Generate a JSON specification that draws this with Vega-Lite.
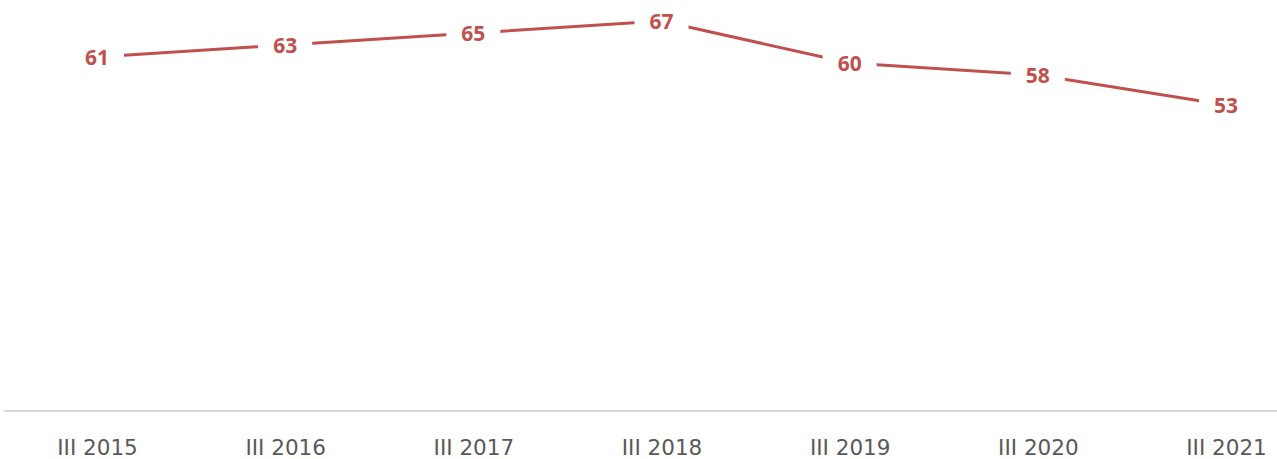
{
  "$schema": "https://vega.github.io/schema/vega-lite/v6.json",
  "width": 1273,
  "height": 408,
  "padding": {"left": 4, "top": 3, "right": 0, "bottom": 48},
  "autosize": {"type": "none"},
  "background": "white",
  "config": {"view": {"stroke": null}},
  "data": {
    "values": [
      {"period": "III 2015", "value": 61},
      {"period": "III 2016", "value": 63},
      {"period": "III 2017", "value": 65},
      {"period": "III 2018", "value": 67},
      {"period": "III 2019", "value": 60},
      {"period": "III 2020", "value": 58},
      {"period": "III 2021", "value": 53}
    ]
  },
  "layer": [
    {
      "mark": {"type": "rule", "color": "#d9d9d9", "strokeWidth": 2},
      "encoding": {
        "y": {"datum": 2, "type": "quantitative", "scale": {"domain": [2, 70], "nice": false, "zero": false}, "axis": null}
      }
    },
    {
      "mark": {"type": "line", "color": "#c0504d", "strokeWidth": 3},
      "encoding": {
        "x": {"field": "period", "type": "ordinal", "sort": null,
          "scale": {"type": "point", "range": [93, 1222], "padding": 0},
          "axis": {"title": null, "domain": false, "ticks": false, "grid": false, "labelAngle": 0,
            "labelFont": "DejaVu Sans", "labelFontSize": 21.5, "labelColor": "#595959", "labelPadding": 26}},
        "y": {"field": "value", "type": "quantitative", "axis": null}
      }
    },
    {
      "mark": {"type": "point", "shape": "M-1,-0.55L1,-0.55L1,0.55L-1,0.55Z", "filled": true, "fill": "white", "opacity": 1, "strokeWidth": 0, "size": 2916},
      "encoding": {
        "x": {"field": "period", "type": "ordinal", "sort": null},
        "y": {"field": "value", "type": "quantitative"}
      }
    },
    {
      "mark": {"type": "text", "font": "Open Sans", "fontWeight": "bold", "fontSize": 21, "color": "#c0504d", "baseline": "middle", "align": "center", "dy": 2},
      "encoding": {
        "x": {"field": "period", "type": "ordinal", "sort": null},
        "y": {"field": "value", "type": "quantitative"},
        "text": {"field": "value", "type": "quantitative"}
      }
    }
  ]
}
